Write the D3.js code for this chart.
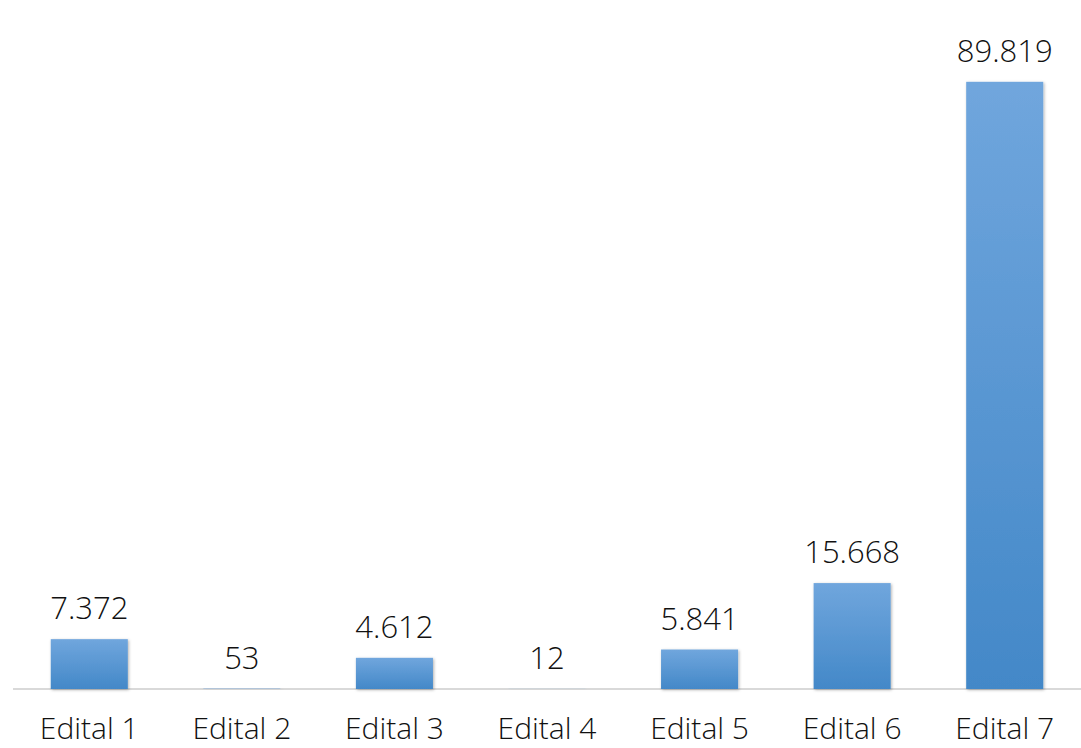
<!DOCTYPE html>
<html><head><meta charset="utf-8">
<script src="https://cdn.jsdelivr.net/npm/d3@7"></script>
<style>body{margin:0;background:#fff;}svg{display:block;}</style>
</head><body>
<script>
const categories = ["Edital 1","Edital 2","Edital 3","Edital 4","Edital 5","Edital 6","Edital 7"];
const values = [7372, 53, 4612, 12, 5841, 15668, 89819];
const valueLabels = ["7.372","53","4.612","12","5.841","15.668","89.819"];

const W = 1081, H = 748;
const svg = d3.select("body").append("svg").attr("width", W).attr("height", H);
const defs = svg.append("defs");
const grad = defs.append("linearGradient").attr("id","g").attr("x1",0).attr("y1",0).attr("x2",0).attr("y2",1);
grad.append("stop").attr("offset","0%").attr("stop-color","#70a6dd");
grad.append("stop").attr("offset","100%").attr("stop-color","#4388c8");
const f = defs.append("filter").attr("id","sh").attr("x","-20%").attr("y","-20%").attr("width","140%").attr("height","140%");
f.append("feDropShadow").attr("dx",1).attr("dy",1).attr("stdDeviation",1.5).attr("flood-color","#000").attr("flood-opacity",0.3);

const x = d3.scaleBand().domain(categories).range([13, 1081]).paddingInner(0.495).paddingOuter(0.2475);
const y = d3.scaleLinear().domain([0, 100000]).range([689, 13]);

svg.append("line").attr("x1",13).attr("x2",1081).attr("y1",y(0)).attr("y2",y(0))
  .attr("stroke","#d9d9d9").attr("stroke-width",2);

svg.selectAll("rect.bar").data(values).join("rect").attr("class","bar")
  .attr("x",(d,i)=>x(categories[i])).attr("width",x.bandwidth())
  .attr("y",d=>y(d)).attr("height",d=>y(0)-y(d))
  .attr("fill","url(#g)").attr("filter","url(#sh)");

const font = "'Open Sans', sans-serif";
function styleText(sel, size){
  sel.attr("text-anchor","middle").attr("font-family",font).attr("font-size",size)
     .attr("font-weight",300).attr("fill","#111");
}
svg.selectAll("text.val").data(values).join("text").attr("class","val")
  .attr("x",(d,i)=>x(categories[i])+x.bandwidth()/2)
  .attr("y",d=>y(d)-20)
  .call(styleText, 31)
  .text((d,i)=>valueLabels[i]);

svg.selectAll("text.cat").data(categories).join("text").attr("class","cat")
  .attr("x",d=>x(d)+x.bandwidth()/2).attr("y",739)
  .call(styleText, 30)
  .text(d=>d);
</script>
</body></html>
